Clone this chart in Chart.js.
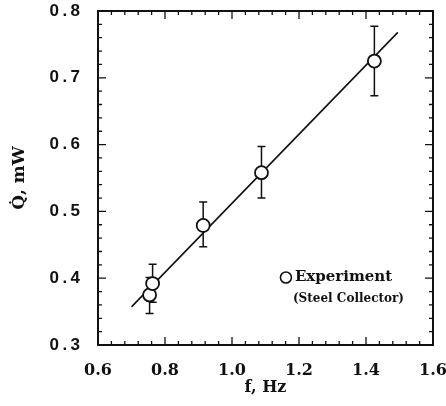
<!DOCTYPE html>
<html>
<head>
<meta charset="utf-8">
<script src="https://cdn.jsdelivr.net/npm/chart.js@4.4.1/dist/chart.umd.min.js"></script>
<style>
  html, body { margin: 0; padding: 0; background: #fff; }
  #wrap { width: 446px; height: 406px; }
</style>
</head>
<body>
<div id="wrap"><canvas id="chart_heatFlow"></canvas></div>
<script>
// measured points (steel collector)
var freqHz = [0.754, 0.763, 0.914, 1.088, 1.425];
var powerMw = [0.375, 0.392, 0.479, 0.558, 0.725];
var errLow = [0.347, 0.364, 0.447, 0.520, 0.673];
var errHigh = [0.401, 0.421, 0.514, 0.597, 0.777];
// fitted line end points
var fitHz = [0.70, 1.495];
var fitMw = [0.357, 0.768];

var xMajor = 0.2, yMajor = 0.1;

function isMajor(v, step) {
    var r = v / step;
    return Math.abs(r - Math.round(r)) < 1e-6;
}

var ink = '#111';

var chart_heatFlow = new Chart(document.getElementById('chart_heatFlow'), {
    type: 'scatter',
    data: {
        datasets: [
            {
                label: 'fit',
                data: fitHz.map(function (f, i) { return { x: f, y: fitMw[i] }; }),
                showLine: true,
                borderColor: ink,
                borderWidth: 1.6,
                pointRadius: 0,
                order: 2
            },
            {
                label: 'Experiment',
                data: freqHz.map(function (f, i) { return { x: f, y: powerMw[i] }; }),
                pointRadius: 6.5,
                pointBorderWidth: 1.8,
                pointBorderColor: ink,
                pointBackgroundColor: '#fff',
                order: 1
            }
        ]
    },
    options: {
        animation: false,
        responsive: true,
        maintainAspectRatio: false,
        layout: { padding: { left: 0, right: 13, top: 11, bottom: 9 } },
        plugins: {
            legend: { display: false },
            tooltip: { enabled: false }
        },
        scales: {
            x: {
                type: 'linear',
                min: 0.6,
                max: 1.6,
                grid: { display: false },
                border: { display: false },
                ticks: {
                    stepSize: 0.04,
                    autoSkip: false,
                    maxRotation: 0,
                    padding: 8,
                    color: ink,
                    font: { family: 'DejaVu Serif', weight: 'bold', size: 16 },
                    callback: function (v) { return isMajor(v, xMajor) ? v.toFixed(1) : ''; }
                },
                title: {
                    display: true,
                    text: 'f, Hz',
                    color: ink,
                    font: { family: 'DejaVu Serif', weight: 'bold', size: 16 },
                    padding: { top: 4, bottom: 0 }
                },
                afterFit: function (s) {
                    s.height = 52;
                    s.paddingLeft = 0;
                    s.paddingRight = 0;
                }
            },
            y: {
                type: 'linear',
                min: 0.3,
                max: 0.8,
                grid: { display: false },
                border: { display: false },
                ticks: {
                    stepSize: 0.02,
                    autoSkip: false,
                    padding: 10,
                    color: ink,
                    font: { family: 'Liberation Sans', weight: 'bold', size: 17 },
                    callback: function (v) {
                        return isMajor(v, yMajor) ? v.toFixed(1).split('').join('\u2009') : '';
                    }
                },
                title: {
                    display: true,
                    text: 'Q\u0307, mW',
                    color: ink,
                    font: { family: 'DejaVu Serif', weight: 'bold', size: 17 },
                    padding: { top: 9, bottom: 0 }
                },
                afterFit: function (s) {
                    s.width = 98;
                    s.paddingTop = 0;
                    s.paddingBottom = 0;
                }
            }
        }
    },
    plugins: [{
        id: 'whiteBack',
        beforeDraw: function (chart) {
            var ctx = chart.ctx;
            ctx.save();
            ctx.fillStyle = '#fff';
            ctx.fillRect(0, 0, chart.width, chart.height);
            ctx.restore();
        }
    }, {
        id: 'frameAndTicks',
        afterDraw: function (chart) {
            var ctx = chart.ctx, a = chart.chartArea;
            var xs = chart.scales.x, ys = chart.scales.y;
            ctx.save();
            ctx.strokeStyle = ink;
            ctx.lineWidth = 2;
            ctx.strokeRect(a.left, a.top, a.right - a.left, a.bottom - a.top);
            ctx.lineWidth = 1.3;
            ctx.beginPath();
            xs.ticks.forEach(function (t) {
                var px = xs.getPixelForValue(t.value);
                var len = isMajor(t.value, xMajor) ? 8 : 4;
                ctx.moveTo(px, a.bottom); ctx.lineTo(px, a.bottom - len);
                ctx.moveTo(px, a.top); ctx.lineTo(px, a.top + len);
            });
            ys.ticks.forEach(function (t) {
                var py = ys.getPixelForValue(t.value);
                var len = isMajor(t.value, yMajor) ? 8 : 4;
                ctx.moveTo(a.left, py); ctx.lineTo(a.left + len, py);
                ctx.moveTo(a.right, py); ctx.lineTo(a.right - len, py);
            });
            ctx.stroke();
            ctx.restore();
        }
    }, {
        id: 'errorBars',
        beforeDatasetsDraw: function (chart) {
            var ctx = chart.ctx;
            var xs = chart.scales.x, ys = chart.scales.y;
            ctx.save();
            ctx.strokeStyle = ink;
            ctx.lineWidth = 1.5;
            ctx.beginPath();
            freqHz.forEach(function (f, i) {
                var px = xs.getPixelForValue(f);
                var lo = ys.getPixelForValue(errLow[i]);
                var hi = ys.getPixelForValue(errHigh[i]);
                ctx.moveTo(px, lo); ctx.lineTo(px, hi);
                ctx.moveTo(px - 4, lo); ctx.lineTo(px + 4, lo);
                ctx.moveTo(px - 4, hi); ctx.lineTo(px + 4, hi);
            });
            ctx.stroke();
            ctx.restore();
        }
    }, {
        id: 'keyBox',
        afterDatasetsDraw: function (chart) {
            var ctx = chart.ctx;
            var xs = chart.scales.x, ys = chart.scales.y;
            // key anchored to data coordinates inside the plot
            var cx = xs.getPixelForValue(1.161);
            var cy = ys.getPixelForValue(0.401);
            ctx.save();
            ctx.strokeStyle = ink;
            ctx.fillStyle = '#fff';
            ctx.lineWidth = 1.6;
            ctx.beginPath();
            ctx.arc(cx, cy, 5.5, 0, Math.PI * 2);
            ctx.fill();
            ctx.stroke();
            ctx.fillStyle = ink;
            ctx.textBaseline = 'middle';
            ctx.textAlign = 'left';
            ctx.font = 'bold 15px "DejaVu Serif"';
            ctx.fillText('Experiment', cx + 9, cy);
            ctx.font = 'bold 12px "DejaVu Serif"';
            ctx.fillText('(Steel Collector)', cx + 7, cy + 21);
            ctx.restore();
        }
    }]
});
</script>
</body>
</html>
